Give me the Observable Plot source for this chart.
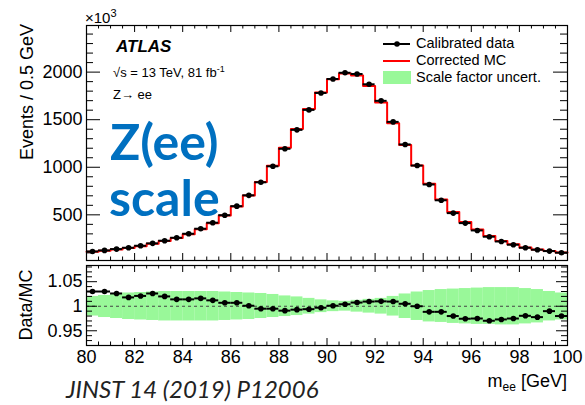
<!DOCTYPE html>
<html>
<head>
<meta charset="utf-8">
<script src="https://cdn.jsdelivr.net/npm/d3@7"></script>
<script src="https://cdn.jsdelivr.net/npm/@observablehq/plot@0.6"></script>
<style>
  body { margin: 0; background: #fff; }
  #wrap { position: relative; width: 585px; height: 405px; overflow: hidden; background: #fff; }
  #wrap svg { position: absolute; left: 0; }
</style>
</head>
<body>
<div id="wrap"></div>
<script>
// Z -> ee invariant-mass spectrum, 0.5 GeV bins between 80 and 100 GeV
const binLow = [80, 80.5, 81, 81.5, 82, 82.5, 83, 83.5, 84, 84.5,
                85, 85.5, 86, 86.5, 87, 87.5, 88, 88.5, 89, 89.5,
                90, 90.5, 91, 91.5, 92, 92.5, 93, 93.5, 94, 94.5,
                95, 95.5, 96, 96.5, 97, 97.5, 98, 98.5, 99, 99.5];
const binWidth = 0.5;

// Calibrated data, events per bin (x10^3)
const dataEvents = [115, 126, 140, 154, 175, 200, 228, 259, 301, 354,
                    417, 496, 591, 705, 842, 1010, 1194, 1393, 1603, 1781,
                    1928, 1993, 1980, 1872, 1698, 1477, 1240, 1018, 819, 653,
                    518, 413, 336, 270, 220, 186, 154, 133, 119, 102];

// Corrected MC, events per bin (x10^3)
const mcEvents = [112, 122, 136, 151, 171, 195, 224, 256, 297, 348,
                  412, 493, 587, 704, 846, 1015, 1204, 1403, 1613, 1787,
                  1926, 1985, 1965, 1854, 1681, 1463, 1234, 1018, 828, 661,
                  529, 424, 345, 278, 226, 191, 157, 136, 120, 104];

// Data / MC ratio per bin
const ratio = [1.030, 1.030, 1.026, 1.018, 1.021, 1.026, 1.020, 1.014, 1.014, 1.016,
               1.012, 1.007, 1.007, 1.001, 0.995, 0.995, 0.991, 0.993, 0.994, 0.997,
               1.001, 1.004, 1.0075, 1.0095, 1.010, 1.0095, 1.005, 1.000, 0.9886, 0.9886,
               0.980, 0.9745, 0.975, 0.9704, 0.9731, 0.975, 0.9805, 0.9778, 0.990, 0.980];

// Scale-factor uncertainty band on the ratio
const bandHi = [1.020, 1.022, 1.025, 1.027, 1.028, 1.029, 1.030, 1.030, 1.030, 1.030,
                1.030, 1.029, 1.028, 1.027, 1.026, 1.024, 1.021, 1.019, 1.016, 1.013,
                1.011, 1.010, 1.012, 1.014, 1.016, 1.020, 1.025, 1.029, 1.032, 1.034,
                1.035, 1.036, 1.037, 1.038, 1.038, 1.038, 1.036, 1.034, 1.030, 1.027];
const bandLo = [0.980, 0.977, 0.975, 0.973, 0.972, 0.971, 0.970, 0.970, 0.970, 0.970,
                0.970, 0.971, 0.972, 0.973, 0.975, 0.977, 0.979, 0.981, 0.984, 0.987,
                0.989, 0.990, 0.988, 0.986, 0.984, 0.980, 0.975, 0.971, 0.968, 0.967,
                0.965, 0.964, 0.963, 0.963, 0.962, 0.962, 0.964, 0.966, 0.970, 0.972];

// Axis tick labels
const xTickLabels = [80, 82, 84, 86, 88, 90, 92, 94, 96, 98, 100];
const yTickLabels = [500, 1000, 1500, 2000];
const ratioTickLabels = [0.95, 1, 1.05];

const rows = binLow.map((lo, i) => ({
  lo, hi: lo + binWidth, mid: lo + binWidth / 2,
  data: dataEvents[i], mc: mcEvents[i], ratio: ratio[i],
  bandLo: bandLo[i], bandHi: bandHi[i]
}));
// step outline of the MC histogram: left edge of each bin plus the closing edge
const mcStep = rows.map(r => ({x: r.lo, y: r.mc})).concat([{x: 100, y: mcEvents[mcEvents.length - 1]}]);

const W = 585, ML = 86, MR = 18;
const innerW = W - ML - MR;
const font = "'Liberation Sans', Arial, Helvetica, sans-serif";

// inward ROOT-style ticks on all four sides of a panel
function frameTicks(innerH, yMajor, yMinor, yMajLen, yMinLen, xMajLen, xMinLen) {
  const xMajor = d3.range(80, 100.01, 2);
  const xMinor = d3.range(80.5, 100, 0.5).filter(v => v % 2 !== 0);
  const s = {stroke: "black", strokeWidth: 1};
  return [
    Plot.tickY(yMajor, {y: d => d, insetRight: innerW - yMajLen, ...s}),
    Plot.tickY(yMajor, {y: d => d, insetLeft: innerW - yMajLen, ...s}),
    Plot.tickY(yMinor, {y: d => d, insetRight: innerW - yMinLen, ...s}),
    Plot.tickY(yMinor, {y: d => d, insetLeft: innerW - yMinLen, ...s}),
    Plot.tickX(xMajor, {x: d => d, insetTop: innerH - xMajLen, ...s}),
    Plot.tickX(xMajor, {x: d => d, insetBottom: innerH - xMajLen, ...s}),
    Plot.tickX(xMinor, {x: d => d, insetTop: innerH - xMinLen, ...s}),
    Plot.tickX(xMinor, {x: d => d, insetBottom: innerH - xMinLen, ...s})
  ];
}

const mainH = 262, mainTop = 25, mainBottom = 2;
const mainPlot = Plot.plot({
  width: W, height: mainH,
  marginLeft: ML, marginRight: MR, marginTop: mainTop, marginBottom: mainBottom,
  style: {fontFamily: font, fontSize: "18px", background: "transparent", color: "black", overflow: "visible"},
  x: {domain: [80, 100], axis: null},
  y: {domain: [20, 2490]},
  marks: [
    Plot.line(mcStep, {x: "x", y: "y", curve: "step-after", stroke: "#ff0000", strokeWidth: 2}),
    Plot.ruleY(rows, {x1: "lo", x2: "hi", y: "data", stroke: "black", strokeWidth: 2}),
    Plot.dot(rows, {x: "mid", y: "data", r: 2.8, fill: "black", stroke: "none"}),
    ...frameTicks(mainH - mainTop - mainBottom, yTickLabels,
      d3.range(100, 2500, 100).filter(v => v % 500 !== 0), 14, 7, 7, 3.5),
    Plot.axisY(yTickLabels, {anchor: "left", tickSize: 0, tickPadding: 4, label: null,
      fontSize: 18, tickFormat: d => String(d)}),
    Plot.frame({stroke: "black", strokeWidth: 1.2})
  ]
});
mainPlot.style.top = "0px";

const ratH = 143, ratTop = 3, ratBottom = 60;
const ratioPlot = Plot.plot({
  width: W, height: ratH,
  marginLeft: ML, marginRight: MR, marginTop: ratTop, marginBottom: ratBottom,
  style: {fontFamily: font, fontSize: "18px", background: "transparent", color: "black", overflow: "visible"},
  x: {domain: [80, 100]},
  y: {domain: [0.92, 1.083]},
  marks: [
    Plot.rect(rows, {x1: "lo", x2: "hi", y1: "bandLo", y2: "bandHi", fill: "#99f899", stroke: "none"}),
    Plot.ruleY([1], {stroke: "#444", strokeWidth: 1.2, strokeDasharray: "3,3"}),
    Plot.ruleY(rows, {x1: "lo", x2: "hi", y: "ratio", stroke: "black", strokeWidth: 2}),
    Plot.dot(rows, {x: "mid", y: "ratio", r: 2.8, fill: "black", stroke: "none"}),
    ...frameTicks(ratH - ratTop - ratBottom, ratioTickLabels,
      d3.range(93, 109).filter(v => v % 5 !== 0).map(v => v / 100), 11, 6, 7, 3.5),
    Plot.axisY(ratioTickLabels, {anchor: "left", tickSize: 0, tickPadding: 4, label: null,
      fontSize: 18, tickFormat: d => String(d)}),
    Plot.axisX(xTickLabels, {anchor: "bottom", tickSize: 0, tickPadding: 5, label: null,
      fontSize: 18, tickFormat: d => String(d)}),
    Plot.frame({stroke: "black", strokeWidth: 1.2})
  ]
});
ratioPlot.style.top = mainH + "px";

const wrap = document.getElementById("wrap");
wrap.appendChild(mainPlot);
wrap.appendChild(ratioPlot);

// annotation layer: axis titles, ATLAS label, legend and captions
const ann = d3.create("svg").attr("width", W).attr("height", 405)
  .style("top", "0px").style("pointer-events", "none")
  .attr("font-family", font).attr("fill", "black");

const mult = ann.append("text").attr("x", 85).attr("y", 23).attr("font-size", 15).text("×10");
mult.append("tspan").attr("dy", -6).attr("font-size", 11).text("3");

ann.append("text").attr("x", 33).attr("y", 24).attr("font-size", 18)
  .attr("text-anchor", "end").attr("transform", "rotate(-90,33,24)")
  .attr("x", 33).text("Events / 0.5 GeV");
ann.append("text").attr("x", 32).attr("y", 305).attr("font-size", 18)
  .attr("text-anchor", "middle").attr("transform", "rotate(-90,32,305)").text("Data/MC");

const mee = ann.append("text").attr("x", 567).attr("y", 387).attr("font-size", 18).attr("text-anchor", "end");
mee.append("tspan").text("m");
mee.append("tspan").attr("dy", 4).attr("font-size", 12).text("ee");
mee.append("tspan").attr("dy", -4).text(" [GeV]");

ann.append("text").attr("x", 116).attr("y", 52).attr("font-size", 17)
  .attr("font-weight", "bold").attr("font-style", "italic").text("ATLAS");
const energy = ann.append("text").attr("x", 113).attr("y", 77).attr("font-size", 13);
energy.append("tspan").text("√s = 13 TeV, 81 fb");
energy.append("tspan").attr("dy", -5).attr("font-size", 9).text("-1");
ann.append("text").attr("x", 113).attr("y", 99).attr("font-size", 13).text("Z→ ee");

// legend
ann.append("line").attr("x1", 383).attr("x2", 410).attr("y1", 44).attr("y2", 44)
  .attr("stroke", "black").attr("stroke-width", 2);
ann.append("circle").attr("cx", 397).attr("cy", 44).attr("r", 2.8).attr("fill", "black");
ann.append("line").attr("x1", 383).attr("x2", 410).attr("y1", 61).attr("y2", 61)
  .attr("stroke", "#ff0000").attr("stroke-width", 2);
ann.append("rect").attr("x", 383).attr("y", 71).attr("width", 28).attr("height", 13).attr("fill", "#99f899");
[["Calibrated data", 48], ["Corrected MC", 65], ["Scale factor uncert.", 82]].forEach(([t, y]) =>
  ann.append("text").attr("x", 416).attr("y", y).attr("font-size", 14.5).text(t));

// large overlay captions
ann.append("text").attr("x", 110).attr("y", 160).attr("font-family", "Lato, 'Open Sans', sans-serif")
  .attr("font-weight", 700).attr("font-size", 50).attr("fill", "#0070C0").text("Z(ee)");
ann.append("text").attr("x", 109).attr("y", 216).attr("font-family", "Lato, 'Open Sans', sans-serif")
  .attr("font-weight", 700).attr("font-size", 50).attr("fill", "#0070C0").text("scale");
ann.append("text").attr("x", 66).attr("y", 398).attr("font-family", "Lato, 'Open Sans', sans-serif")
  .attr("font-style", "italic").attr("font-size", 24).attr("fill", "#222").text("JINST 14 (2019) P12006");

wrap.appendChild(ann.node());
</script>
</body>
</html>
